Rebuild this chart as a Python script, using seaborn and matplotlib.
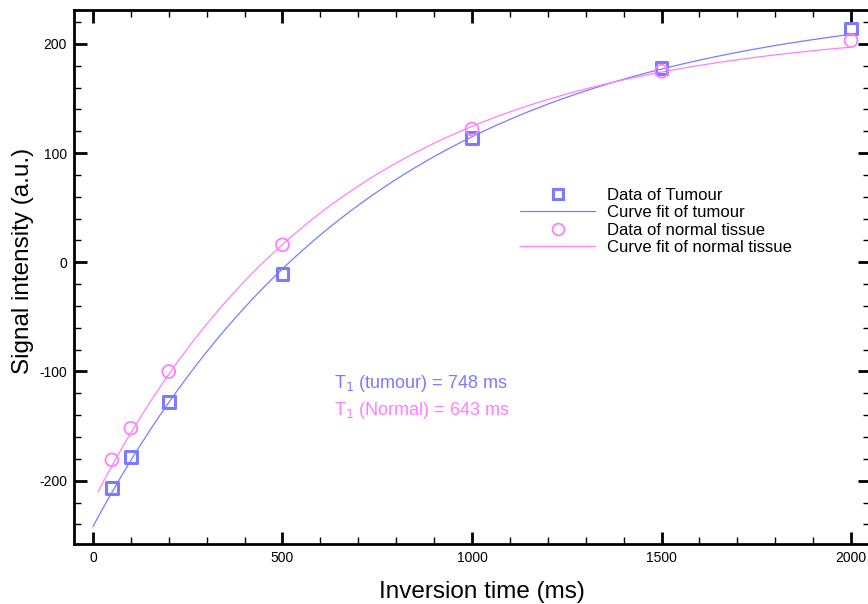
import numpy as np
import matplotlib
matplotlib.use("Agg")
import matplotlib.pyplot as plt
import seaborn as sns
from matplotlib.ticker import MultipleLocator
from matplotlib.lines import Line2D

# Data
inversion_times = [50, 100, 200, 500, 1000, 1500, 2000]
tumour_signal = [-207, -178, -128, -11, 114, 178, 214]
normal_signal = [-181, -152, -100, 16, 122, 175, 203]

# Fit parameters: S(t) = A - B*exp(-t/T1)
tumour_fit = {"A": 242.1, "B": 484.1, "T1": 748, "t_start": 0, "t_end": 2000}
normal_fit = {"A": 216.4, "B": 435.4, "T1": 643, "t_start": 13, "t_end": 2000}

blue = "#7b7bff"
pink = "#ff7fff"

sns.set_style("ticks")
plt.rcParams["font.family"] = ["Liberation Sans", "DejaVu Sans"]
plt.rcParams["axes.unicode_minus"] = False
plt.rcParams["text.color"] = "black"
plt.rcParams["axes.labelcolor"] = "black"

fig = plt.figure(figsize=(8.68, 6.04), dpi=100)
ax = fig.add_axes([74/868, 60/604, (870-74)/868, (544-10)/604])

def fit_curve(p):
    t = np.linspace(p["t_start"], p["t_end"], 400)
    return t, p["A"] - p["B"] * np.exp(-t / p["T1"])

tt, ts = fit_curve(tumour_fit)
tn, sn = fit_curve(normal_fit)

sns.lineplot(x=tt, y=ts, ax=ax, color=blue, lw=0.9, sort=False)
sns.lineplot(x=tn, y=sn, ax=ax, color=pink, lw=0.9, sort=False)
sns.scatterplot(x=inversion_times, y=tumour_signal, ax=ax, marker="s", s=72,
                facecolor="none", edgecolor=blue, linewidth=2.2, zorder=5)
sns.scatterplot(x=inversion_times, y=normal_signal, ax=ax, marker="o", s=85,
                facecolor="none", edgecolor=pink, linewidth=1.3, zorder=5)

ax.set_xlim(-50, 2050)
ax.set_ylim(-258, 231)
ax.xaxis.set_major_locator(MultipleLocator(500))
ax.xaxis.set_minor_locator(MultipleLocator(100))
ax.yaxis.set_major_locator(MultipleLocator(100))
ax.yaxis.set_minor_locator(MultipleLocator(20))
ax.tick_params(which="both", direction="in", top=True, right=True, colors="black",
               labelsize=10, width=1.2)
ax.tick_params(which="major", length=9, width=2)
ax.tick_params(which="minor", length=5, width=1)
ax.tick_params(axis="x", pad=5)
ax.tick_params(axis="y", pad=5)
for s in ax.spines.values():
    s.set_linewidth(2)
    s.set_color("black")

ax.set_xlabel("Inversion time (ms)", fontsize=17.5, va="center")
ax.set_ylabel("Signal intensity (a.u.)", fontsize=17.5, va="center")
ax.xaxis.set_label_coords(0.5126, -0.0899)
ax.yaxis.set_label_coords(-0.064, 0.530)

handles = [
    Line2D([], [], marker="s", ls="none", mfc="none", mec=blue, mew=2.2, ms=7),
    Line2D([], [], color=blue, lw=0.9),
    Line2D([], [], marker="o", ls="none", mfc="none", mec=pink, mew=1.3, ms=8.5),
    Line2D([], [], color=pink, lw=0.9),
]
labels = ["Data of Tumour", "Curve fit of tumour", "Data of normal tissue", "Curve fit of normal tissue"]
ax.legend(handles, labels, loc="upper left", bbox_to_anchor=(0.55, 0.683), frameon=False,
          fontsize=12, handlelength=4.5, handletextpad=0.7, labelspacing=0.15, borderpad=0)

ax.text(637, -111, r"T$_1$ (tumour) = 748 ms", color=blue, fontsize=13, va="center")
ax.text(637, -136, r"T$_1$ (Normal) = 643 ms", color=pink, fontsize=13, va="center")

fig.savefig("out.png", dpi=100)
